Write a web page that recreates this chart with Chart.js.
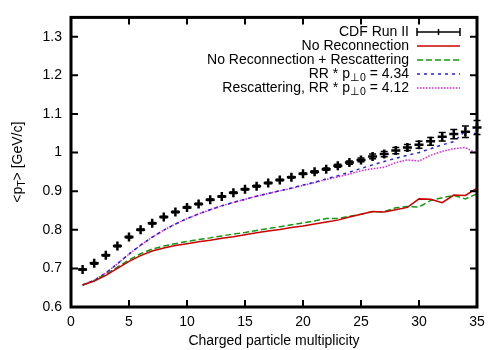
<!DOCTYPE html>
<html>
<head>
<meta charset="utf-8">
<script src="https://cdn.jsdelivr.net/npm/chart.js@4.4.1/dist/chart.umd.min.js"></script>
<style>
  html, body { margin: 0; padding: 0; background: #fff; }
  #wrap { width: 500px; height: 350px; }
</style>
</head>
<body>
<div id="wrap"><canvas id="grafico"></canvas></div>
<script>
// Multiplicidade de particulas carregadas (eixo x)
const multiplicidade = [1, 2, 3, 4, 5, 6, 7, 8, 9, 10, 11, 12, 13, 14, 15, 16, 17, 18,
  19, 20, 21, 22, 23, 24, 25, 26, 27, 28, 29, 30, 31, 32, 33, 34, 35];

// CDF Run II
const cdfValores = [0.697, 0.713, 0.734, 0.758, 0.781, 0.800, 0.817, 0.833, 0.846, 0.858,
  0.867, 0.878, 0.886, 0.896, 0.905, 0.913, 0.921, 0.929, 0.936, 0.945,
  0.950, 0.957, 0.966, 0.974, 0.981, 0.990, 0.996, 1.005, 1.013, 1.020,
  1.029, 1.041, 1.048, 1.054, 1.065];
const cdfErros = [0.002, 0.002, 0.002, 0.002, 0.002, 0.002, 0.002, 0.002, 0.002, 0.002,
  0.002, 0.002, 0.002, 0.002, 0.002, 0.002, 0.002, 0.002, 0.002, 0.002,
  0.003, 0.003, 0.004, 0.004, 0.005, 0.006, 0.007, 0.008, 0.008, 0.009,
  0.010, 0.011, 0.012, 0.015, 0.018];

// Simulacoes
const semReconexao = [0.657, 0.667, 0.682, 0.700, 0.718, 0.733, 0.745, 0.753, 0.759, 0.764,
  0.769, 0.773, 0.778, 0.782, 0.787, 0.792, 0.797, 0.801, 0.806, 0.810,
  0.815, 0.820, 0.825, 0.833, 0.840, 0.847, 0.846, 0.852, 0.858, 0.880,
  0.879, 0.870, 0.890, 0.889, 0.908];
const semReconexaoRescat = [0.657, 0.668, 0.685, 0.703, 0.722, 0.738, 0.750, 0.758, 0.764, 0.770,
  0.775, 0.779, 0.784, 0.789, 0.793, 0.798, 0.803, 0.808, 0.813, 0.818,
  0.823, 0.829, 0.829, 0.835, 0.840, 0.847, 0.847, 0.857, 0.860, 0.859,
  0.876, 0.883, 0.889, 0.880, 0.893];
const rr434 = [0.657, 0.669, 0.688, 0.712, 0.737, 0.760, 0.781, 0.799, 0.815, 0.829,
  0.841, 0.852, 0.862, 0.871, 0.879, 0.887, 0.894, 0.901, 0.908, 0.916,
  0.923, 0.932, 0.940, 0.949, 0.959, 0.968, 0.977, 0.985, 0.993, 1.000,
  1.010, 1.020, 1.028, 1.056, 1.048];
const rescatRr412 = [0.657, 0.669, 0.688, 0.712, 0.737, 0.760, 0.781, 0.799, 0.815, 0.829,
  0.841, 0.852, 0.862, 0.871, 0.879, 0.887, 0.894, 0.901, 0.907, 0.915,
  0.922, 0.930, 0.937, 0.944, 0.953, 0.958, 0.962, 0.974, 0.981, 0.978,
  0.993, 1.003, 1.010, 1.013, 0.997];

// Marcas dos eixos
const ticksX = [0, 5, 10, 15, 20, 25, 30, 35];
const ticksY = [0.6, 0.7, 0.8, 0.9, 1.0, 1.1, 1.2, 1.3];

const FONTE = "'Liberation Sans', Arial, Helvetica, sans-serif";

function pontos(valores) {
  return multiplicidade.map((m, i) => ({ x: m, y: valores[i] }));
}

// Legenda no estilo gnuplot (texto a direita, amostra depois)
const legendaItens = [
  { partes: [{ t: 'CDF Run II' }], tipo: 'erro' },
  { partes: [{ t: 'No Reconnection' }], cor: '#cc0000', dash: [] },
  { partes: [{ t: 'No Reconnection + Rescattering' }], cor: '#119911', dash: [6, 3] },
  { partes: [{ t: 'RR * p' }, { t: '\u22A50', sub: true }, { t: ' = 4.34' }], cor: '#2222dd', dash: [3, 4] },
  { partes: [{ t: 'Rescattering, RR * p' }, { t: '\u22A50', sub: true }, { t: ' = 4.12' }], cor: '#dd22dd', dash: [1.5, 1.5] }
];

function larguraRica(ctx, partes, tam) {
  let w = 0;
  partes.forEach(p => {
    ctx.font = (p.sub ? tam * 0.75 : tam) + 'px ' + FONTE;
    w += ctx.measureText(p.t).width;
  });
  return w;
}

function textoRico(ctx, partes, x, y, tam) {
  ctx.textBaseline = 'middle';
  ctx.textAlign = 'left';
  partes.forEach(p => {
    ctx.font = (p.sub ? tam * 0.75 : tam) + 'px ' + FONTE;
    ctx.fillText(p.t, x, p.sub ? y + tam * 0.3 : y);
    x += ctx.measureText(p.t).width;
  });
}

const molduraPlugin = {
  id: 'moldura',
  afterDatasetsDraw(chart) {
    const ctx = chart.ctx;
    const a = chart.chartArea;
    const sx = chart.scales.x, sy = chart.scales.y;
    ctx.save();
    ctx.strokeStyle = '#000';
    ctx.setLineDash([]);

    // barras de erro do CDF
    ctx.lineWidth = 1.5;
    multiplicidade.forEach((m, i) => {
      const px = sx.getPixelForValue(m);
      const y1 = sy.getPixelForValue(cdfValores[i] + cdfErros[i]);
      const y2 = sy.getPixelForValue(cdfValores[i] - cdfErros[i]);
      ctx.beginPath();
      ctx.moveTo(px, y1); ctx.lineTo(px, y2);
      ctx.moveTo(px - 3.5, y1); ctx.lineTo(px + 3.5, y1);
      ctx.moveTo(px - 3.5, y2); ctx.lineTo(px + 3.5, y2);
      ctx.stroke();
    });

    // marcas para dentro, nos quatro lados
    ctx.lineWidth = 2;
    ctx.beginPath();
    ticksX.forEach(v => {
      const px = sx.getPixelForValue(v);
      ctx.moveTo(px, a.bottom); ctx.lineTo(px, a.bottom - 7);
      ctx.moveTo(px, a.top); ctx.lineTo(px, a.top + 7);
    });
    ticksY.forEach(v => {
      const py = sy.getPixelForValue(v);
      ctx.moveTo(a.left, py); ctx.lineTo(a.left + 7, py);
      ctx.moveTo(a.right, py); ctx.lineTo(a.right - 7, py);
    });
    ctx.stroke();

    ctx.lineWidth = 3;
    ctx.strokeRect(a.left, a.top, a.right - a.left, a.bottom - a.top);
    ctx.restore();
  },
  afterDraw(chart) {
    const ctx = chart.ctx;
    const tam = 14;
    ctx.save();
    ctx.fillStyle = '#000';

    // legenda
    const xTexto = 409, xA = 417, xB = 460;
    legendaItens.forEach((item, i) => {
      const y = 32 + i * 14;
      const w = larguraRica(ctx, item.partes, tam);
      textoRico(ctx, item.partes, xTexto - w, y, tam);
      ctx.beginPath();
      if (item.tipo === 'erro') {
        ctx.strokeStyle = '#000';
        ctx.lineWidth = 1.5;
        ctx.moveTo(xA, y); ctx.lineTo(xB, y);
        ctx.moveTo(xA, y - 4); ctx.lineTo(xA, y + 4);
        ctx.moveTo(xB, y - 4); ctx.lineTo(xB, y + 4);
        ctx.moveTo((xA + xB) / 2, y - 3); ctx.lineTo((xA + xB) / 2, y + 3);
      } else {
        ctx.strokeStyle = item.cor;
        ctx.lineWidth = 1.5;
        ctx.setLineDash(item.dash);
        ctx.moveTo(xA, y); ctx.lineTo(xB, y);
      }
      ctx.stroke();
      ctx.setLineDash([]);
    });

    // titulo do eixo y, com indice
    const partesY = [{ t: '<p' }, { t: 'T', sub: true }, { t: '> [GeV/c]' }];
    const wy = larguraRica(ctx, partesY, tam);
    ctx.translate(18, (chart.chartArea.top + chart.chartArea.bottom) / 2);
    ctx.rotate(-Math.PI / 2);
    textoRico(ctx, partesY, -wy / 2, 0, tam);
    ctx.restore();
  }
};

const ctx = document.getElementById('grafico').getContext('2d');

new Chart(ctx, {
  type: 'line',
  data: {
    datasets: [
      {
        label: 'CDF Run II',
        data: pontos(cdfValores),
        showLine: false,
        pointStyle: 'cross',
        pointRadius: 4.5,
        pointBorderWidth: 2.5,
        borderColor: '#000',
        clip: false
      },
      {
        label: 'No Reconnection',
        data: pontos(semReconexao),
        borderColor: '#cc0000',
        borderWidth: 1.5,
        pointRadius: 0
      },
      {
        label: 'No Reconnection + Rescattering',
        data: pontos(semReconexaoRescat),
        borderColor: '#119911',
        borderWidth: 1.5,
        borderDash: [6, 3],
        pointRadius: 0
      },
      {
        label: 'RR * p = 4.34',
        data: pontos(rr434),
        borderColor: '#2222dd',
        borderWidth: 1.5,
        borderDash: [3, 4],
        pointRadius: 0
      },
      {
        label: 'Rescattering, RR * p = 4.12',
        data: pontos(rescatRr412),
        borderColor: '#dd22dd',
        borderWidth: 1.5,
        borderDash: [1.5, 1.5],
        pointRadius: 0
      }
    ]
  },
  options: {
    responsive: true,
    maintainAspectRatio: false,
    animation: false,
    devicePixelRatio: 1,
    layout: { padding: { top: 16, right: 23, left: 0, bottom: 0 } },
    plugins: {
      legend: { display: false },
      tooltip: { enabled: false }
    },
    scales: {
      x: {
        type: 'linear',
        min: 0,
        max: 35,
        afterBuildTicks: scale => { scale.ticks = ticksX.map(v => ({ value: v })); },
        afterFit: scale => { scale.height = 43; },
        grid: { display: false, drawTicks: false },
        border: { display: false },
        ticks: {
          padding: 7,
          color: '#000',
          font: { family: FONTE, size: 14 },
          maxRotation: 0
        },
        title: {
          display: true,
          text: 'Charged particle multiplicity',
          color: '#000',
          font: { family: FONTE, size: 14 },
          padding: { top: 0, bottom: 0 }
        }
      },
      y: {
        type: 'linear',
        min: 0.6,
        max: 1.35,
        afterBuildTicks: scale => { scale.ticks = ticksY.map(v => ({ value: v })); },
        afterFit: scale => { scale.width = 71; },
        grid: { display: false, drawTicks: false },
        border: { display: false },
        ticks: {
          padding: 9,
          color: '#000',
          font: { family: FONTE, size: 14 },
          callback: v => String(Number(v.toFixed(1)))
        }
      }
    }
  },
  plugins: [molduraPlugin]
});
</script>
</body>
</html>
